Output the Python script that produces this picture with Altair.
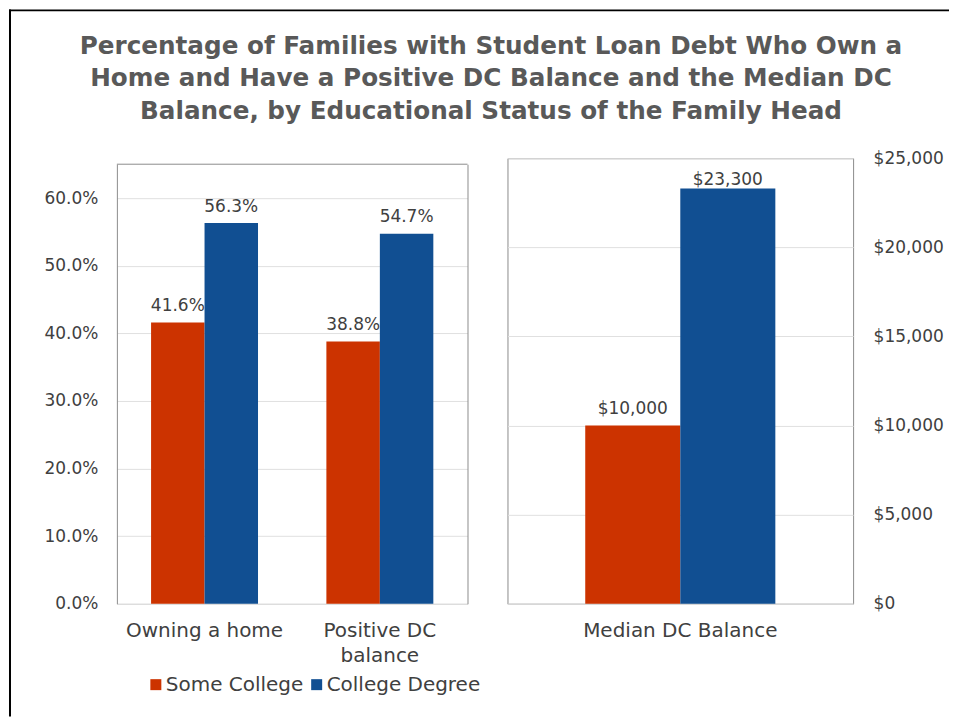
import altair as alt
import pandas as pd

# ---------------- data ----------------
categories = ["Owning a home", "Positive DC balance"]
groups = ["Some College", "College Degree"]
some_college = [0.416, 0.388]
college_degree = [0.563, 0.547]

balance_category = ["Median DC Balance"]
balance_some_college = [10000]
balance_college_degree = [23300]

pct_ticks = [0, 0.1, 0.2, 0.3, 0.4, 0.5, 0.6]
dollar_ticks = [0, 5000, 10000, 15000, 20000, 25000]

title_lines = [
    "Percentage of Families with Student Loan Debt Who Own a",
    "Home and Have a Positive DC Balance and the Median DC",
    "Balance, by Educational Status of the Family Head",
]

# ---------------- styles ----------------
RED = "#CC3300"
BLUE = "#114F92"
TEXT = "#404040"
FRAME = "#8c8c8c"
GRID = "#e0e0e0"
AXISLINE = "#d9d9d9"
FONT = "DejaVu Sans"

left_rows = []
for i, c in enumerate(categories):
    left_rows.append({"category": c, "group": groups[0], "value": some_college[i]})
    left_rows.append({"category": c, "group": groups[1], "value": college_degree[i]})
left_df = pd.DataFrame(left_rows)

right_rows = []
for i, c in enumerate(balance_category):
    right_rows.append({"metric": c, "group": groups[0], "value": balance_some_college[i]})
    right_rows.append({"metric": c, "group": groups[1], "value": balance_college_degree[i]})
right_df = pd.DataFrame(right_rows)

dummy = alt.Data(values=[{"frame": 1}])

color_scale = alt.Scale(domain=groups, range=[RED, BLUE])
xoff = alt.XOffset("group:N", sort=groups, scale=alt.Scale(paddingInner=0, paddingOuter=0))

x_axis_common = dict(
    title=None, labelAngle=0, ticks=False, tickSize=0, labelPadding=17,
    labelFontSize=20, labelColor=TEXT, labelFont=FONT, labelLineHeight=25,
    domainColor=AXISLINE, grid=False, labelLimit=400,
)

# ---------------- left panel ----------------
left_y_scale = alt.Scale(domain=[0, 0.65], range=[446, 6], nice=False, zero=True)
left_x = alt.X(
    "category:N", sort=categories,
    scale=alt.Scale(paddingInner=0.39, paddingOuter=0.195),
    axis=alt.Axis(
        labelExpr="datum.label == 'Positive DC balance' ? ['Positive DC', 'balance'] : datum.label",
        **x_axis_common,
    ),
)

left_bars = alt.Chart(left_df).mark_bar().encode(
    x=left_x,
    xOffset=xoff,
    y=alt.Y(
        "value:Q", scale=left_y_scale,
        axis=alt.Axis(
            title=None, values=pct_ticks, format=".1%", ticks=False, tickSize=0,
            labelPadding=19, labelFontSize=17, labelColor=TEXT, labelFont=FONT,
            domain=True, domainColor=FRAME, grid=True, gridColor=GRID,
        ),
    ),
    color=alt.Color(
        "group:N", scale=color_scale, sort=groups,
        legend=alt.Legend(
            title=None, orient="none", legendX=29, legendY=517, direction="horizontal",
            symbolType="square", symbolSize=121, symbolStrokeWidth=0,
            labelFontSize=20, labelFont=FONT, labelColor=TEXT, labelOffset=0,
            columnPadding=3, padding=0,
        ),
    ),
)

left_labels = alt.Chart(left_df).mark_text(
    dy=-16.5, baseline="middle", fontSize=17, color=TEXT, font=FONT
).encode(
    x=alt.X("category:N", sort=categories),
    xOffset=xoff,
    y=alt.Y("value:Q", axis=None),
    text=alt.Text("value:Q", format=".1%"),
)

left_top = alt.Chart(dummy).mark_rule(color=FRAME, strokeWidth=1).encode(
    y=alt.YDatum(
        0.65,
        axis=alt.Axis(
            orient="right", title=None, labels=False, ticks=False, grid=False,
            domain=True, domainColor=FRAME,
        ),
    )
)

# outer black frame of the figure (left and top edges)
outer_v = alt.Chart(dummy).mark_rect(color="black").encode(
    x=alt.value(-108), x2=alt.value(-106), y=alt.value(-149), y2=alt.value(559)
)
outer_h = alt.Chart(dummy).mark_rect(color="black").encode(
    x=alt.value(-108), x2=alt.value(833), y=alt.value(-149), y2=alt.value(-147)
)

left = alt.layer(left_bars, left_labels, left_top, outer_v, outer_h).resolve_axis(
    y="independent"
).properties(width=351, height=446, view=alt.ViewBackground(stroke="transparent"))

# ---------------- right panel ----------------
right_x = alt.X(
    "metric:N", sort=balance_category,
    scale=alt.Scale(paddingInner=0.45, paddingOuter=0.225),
    axis=alt.Axis(**x_axis_common),
)
right_y_scale = alt.Scale(domain=[0, 25000], nice=False, zero=True)

right_bars = alt.Chart(right_df).mark_bar().encode(
    x=right_x,
    xOffset=xoff,
    y=alt.Y(
        "value:Q", scale=right_y_scale,
        axis=alt.Axis(
            orient="right", title=None, values=dollar_ticks, format="$,.0f",
            ticks=False, tickSize=0, labelPadding=20, labelFontSize=17,
            labelColor=TEXT, labelFont=FONT, domain=False, grid=True, gridColor=GRID,
        ),
    ),
    color=alt.Color("group:N", scale=color_scale, sort=groups, legend=None),
)

right_labels = alt.Chart(right_df).transform_calculate(
    label_pos="min(datum.value + 925, 23767)"
).mark_text(baseline="middle", fontSize=17, color=TEXT, font=FONT).encode(
    x=alt.X("metric:N", sort=balance_category),
    xOffset=xoff,
    y=alt.Y("label_pos:Q", title=None),
    text=alt.Text("value:Q", format="$,.0f"),
)

right = alt.layer(right_bars, right_labels).properties(
    width=346, height=446, view=alt.ViewBackground(stroke=FRAME, strokeWidth=1)
)

chart = alt.hconcat(left, right, spacing=40, bounds="flush").resolve_legend(
    color="independent"
).resolve_scale(color="independent", xOffset="independent").properties(
    title=alt.Title(
        text=title_lines, font=FONT, fontSize=24.7, fontWeight="bold", color="#595959",
        lineHeight=32.5, anchor="middle", offset=-114.5, dx=12,
    ),
    padding=0,
    background="white",
).configure(font=FONT)

chart.save("out.html", embed_options={"renderer": "svg", "actions": False})
